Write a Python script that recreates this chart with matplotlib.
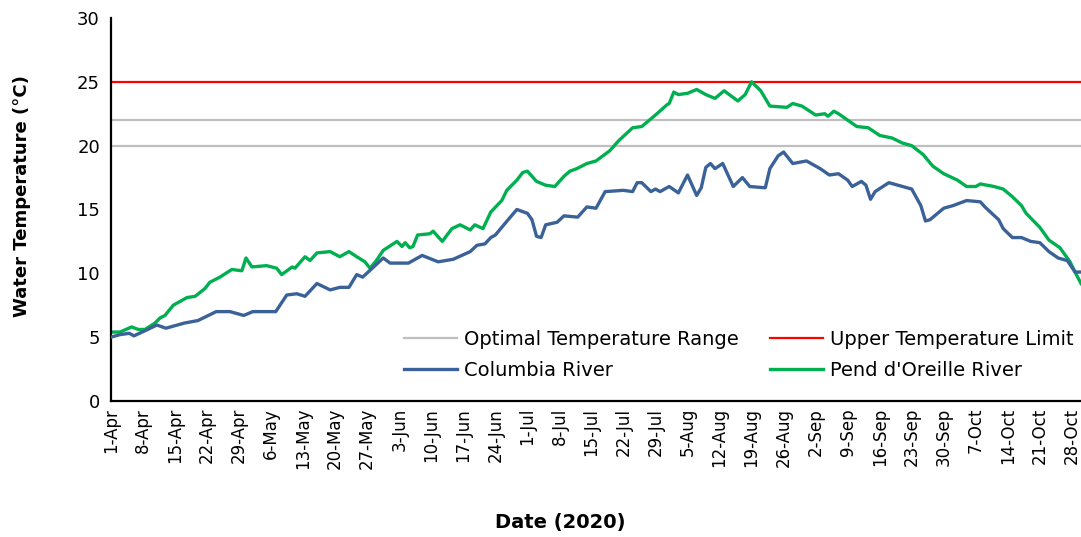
import matplotlib
matplotlib.use("Agg")
import matplotlib.pyplot as plt
import datetime as dt

# ---- data (days after 1-Apr-2020, temperature in °C) ----
columbia_days = [0, 2, 4, 5, 8, 10, 12, 16, 19, 23, 26, 29, 31, 36, 38.4, 40.6, 42.4, 45, 47.9,
                 50, 52, 53.7, 55, 59.5, 61, 65, 68, 71.5, 74.8, 78.5, 80, 81.7, 83, 84, 86.8,
                 88.7, 91, 92, 93, 94, 95, 97.5, 99, 102, 104, 106, 108, 112, 114, 115, 116,
                 118, 119, 120, 122, 124, 126, 128, 129, 130, 131, 132, 133.7, 136, 138, 139.6,
                 143, 144, 145.8, 147, 149, 152, 155, 157, 159, 161, 162, 164, 165, 166, 167,
                 170, 172, 174, 175, 177, 178, 179, 182, 184, 187, 190, 191, 194, 195, 197,
                 199, 201, 203, 205, 207, 209, 210.7, 212]
columbia_temp = [5.0, 5.2, 5.3, 5.1, 5.6, 5.95, 5.7, 6.1, 6.3, 7.0, 7.0, 6.7, 7.0, 7.0, 8.3, 8.4,
                 8.2, 9.2, 8.7, 8.9, 8.9, 9.9, 9.7, 11.2, 10.8, 10.8, 11.4, 10.9, 11.1, 11.7, 12.2,
                 12.3, 12.8, 13.0, 14.2, 15.0, 14.7, 14.2, 12.9, 12.8, 13.8, 14.0, 14.5, 14.4,
                 15.2, 15.1, 16.4, 16.5, 16.4, 17.1, 17.1, 16.4, 16.6, 16.4, 16.8, 16.3, 17.7,
                 16.1, 16.7, 18.3, 18.6, 18.2, 18.6, 16.8, 17.5, 16.8, 16.7, 18.2, 19.2, 19.5,
                 18.6, 18.8, 18.2, 17.7, 17.8, 17.3, 16.8, 17.2, 16.9, 15.8, 16.4, 17.1, 16.9,
                 16.7, 16.6, 15.3, 14.1, 14.2, 15.1, 15.3, 15.7, 15.6, 15.2, 14.2, 13.5, 12.8,
                 12.8, 12.5, 12.4, 11.7, 11.2, 11.0, 10.1, 10.1]

pend_days = [0, 2, 4.5, 6, 7.4, 9.6, 10.7, 11.8, 13.6, 14.6, 16.6, 18.4, 20.5, 21.6, 23.8, 26.4,
             28.6, 29.5, 30.8, 34, 36.2, 37.3, 39.6, 40.2, 42.4, 43.5, 45, 47.9, 50, 52, 53.7,
             55.5, 56.6, 58, 59.5, 62.5, 63.6, 64.3, 65.3, 66, 67, 69.7, 70.4, 72.4, 74.5, 76.3,
             78.5, 79.5, 81.3, 83, 85.4, 86.5, 88.7, 90, 91, 93, 95, 97, 98.5, 99, 100.3, 101.8,
             104, 106, 109, 111, 114, 116, 119, 121.5, 122, 123, 124, 126, 128, 130, 132, 134,
             137, 138.6, 140, 142, 144, 147.7, 149, 151, 154, 156, 156.7, 158, 159, 161, 163,
             165.5, 168, 170.7, 173, 175, 177.5, 179.6, 182, 185, 187, 189, 190, 193, 195, 197,
             199, 200, 203, 205, 207.4, 209.6, 210.7, 212]
pend_temp = [5.4, 5.4, 5.8, 5.6, 5.6, 6.1, 6.5, 6.7, 7.5, 7.7, 8.1, 8.2, 8.8, 9.3, 9.7, 10.3,
             10.2, 11.2, 10.5, 10.6, 10.4, 9.9, 10.5, 10.4, 11.3, 11.0, 11.6, 11.7, 11.3, 11.7,
             11.3, 10.9, 10.4, 11.0, 11.8, 12.5, 12.1, 12.4, 12.0, 12.1, 13.0, 13.1, 13.3, 12.5,
             13.5, 13.8, 13.4, 13.8, 13.5, 14.8, 15.7, 16.5, 17.3, 17.9, 18.0, 17.2, 16.9, 16.8,
             17.4, 17.6, 18.0, 18.2, 18.6, 18.8, 19.6, 20.4, 21.4, 21.5, 22.4, 23.2, 23.3, 24.2,
             24.0, 24.1, 24.4, 24.0, 23.7, 24.3, 23.5, 24.0, 25.0, 24.3, 23.1, 23.0, 23.3, 23.1,
             22.4, 22.5, 22.3, 22.7, 22.5, 22.0, 21.5, 21.4, 20.8, 20.6, 20.2, 20.0, 19.3, 18.4,
             17.8, 17.3, 16.8, 16.8, 17.0, 16.8, 16.6, 16.0, 15.3, 14.7, 13.6, 12.6, 12.0, 10.9,
             10.1, 9.2]

optimal_range = [20, 22]
upper_limit = 25
tick_days = list(range(0, 211, 7))
start_date = dt.date(2020, 4, 1)
tick_labels = [f"{(start_date + dt.timedelta(days=d)).day}-{(start_date + dt.timedelta(days=d)).strftime('%b')}"
               for d in tick_days]

# ---- figure ----
plt.rcParams['font.family'] = ['DejaVu Sans']
fig = plt.figure(figsize=(10.81, 5.37), dpi=100)
ax = fig.add_axes([0.1027, 0.2533, 0.8973, 0.7132])

gray = '#BFBFBF'
ax.axhline(optimal_range[0], color=gray, lw=1.6, label='Optimal Temperature Range', zorder=1)
ax.axhline(optimal_range[1], color=gray, lw=1.6, zorder=1)
ax.axhline(upper_limit, color='#FF0000', lw=1.6, label='Upper Temperature Limit', zorder=1)
ax.plot(columbia_days, columbia_temp, color='#3A6298', lw=2.4, label='Columbia River', zorder=3)
ax.plot(pend_days, pend_temp, color='#00B050', lw=2.4, label="Pend d'Oreille River", zorder=2)

ax.set_xlim(0, 212)
ax.set_ylim(0, 30)
ax.set_yticks(range(0, 31, 5))
ax.set_xticks(tick_days)
ax.set_xticklabels(tick_labels, rotation=90, fontsize=12)
ax.tick_params(axis='y', labelsize=13, length=0, pad=8)
ax.tick_params(axis='x', length=0, pad=5)

for s in ['top', 'right']:
    ax.spines[s].set_visible(False)
for s in ['left', 'bottom']:
    ax.spines[s].set_linewidth(1.6)
    ax.spines[s].set_color('black')

ax.set_ylabel('Water Temperature (°C)', fontsize=13, fontweight='bold')
ax.yaxis.set_label_coords(-0.083, 0.534)
fig.text(0.518, 0.027, 'Date (2020)', fontsize=14, fontweight='bold', ha='center', va='center')

handles, labels = ax.get_legend_handles_labels()
order = [0, 2, 1, 3]
leg = ax.legend([handles[i] for i in order], [labels[i] for i in order], ncol=2,
                loc='center', bbox_to_anchor=(0.6836, 0.3389), bbox_transform=fig.transFigure,
                frameon=False, fontsize=14, handlelength=2.7, handletextpad=0.38,
                columnspacing=1.6, labelspacing=0.62)

fig.savefig('out.png', dpi=100)
